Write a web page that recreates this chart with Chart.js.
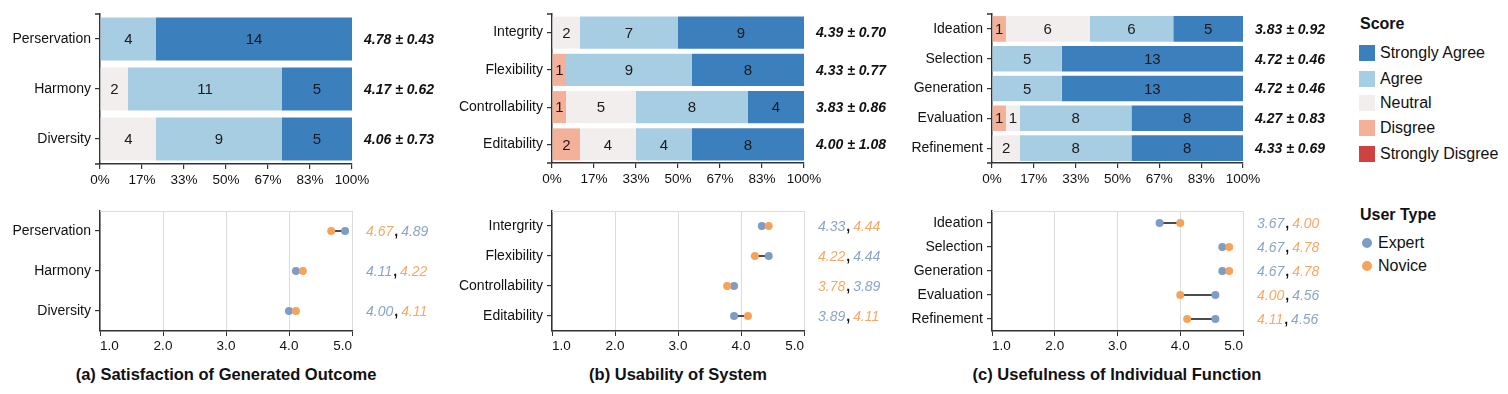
<!DOCTYPE html>
<html>
<head>
<meta charset="utf-8">
<script src="https://cdn.jsdelivr.net/npm/chart.js@4.4.1/dist/chart.umd.min.js"></script>
<style>
    body { margin: 0; background: #fff; }
    #wrap { position: relative; width: 1508px; height: 394px; overflow: hidden; background: #fff;
            font-family: "Liberation Sans", Arial, sans-serif; color: #111; }
    canvas { position: absolute; }
    .title { position: absolute; top: 365px; font-weight: bold; font-size: 16.5px; white-space: nowrap;
             transform: translateX(-50%); }
    .lg-head { position: absolute; left: 1360px; font-weight: bold; font-size: 16px; }
    .lg-item { position: absolute; font-size: 16px; line-height: 18px; white-space: nowrap; }
    .sw { position: absolute; left: 1359px; width: 16px; height: 16px; }
    .dot { position: absolute; left: 1362px; width: 10px; height: 10px; border-radius: 50%; }
</style>
</head>
<body>
<div id="wrap">
    <canvas id="stackA" width="450" height="200" style="left:0px;top:0px"></canvas>
    <canvas id="stackB" width="450" height="200" style="left:450px;top:0px"></canvas>
    <canvas id="stackC" width="440" height="200" style="left:900px;top:0px"></canvas>
    <canvas id="dumbA" width="450" height="165" style="left:0px;top:195px"></canvas>
    <canvas id="dumbB" width="450" height="165" style="left:450px;top:195px"></canvas>
    <canvas id="dumbC" width="440" height="165" style="left:900px;top:195px"></canvas>

    <div class="title" style="left:226px">(a) Satisfaction of Generated Outcome</div>
    <div class="title" style="left:678px">(b) Usability of System</div>
    <div class="title" style="left:1117px">(c) Usefulness of Individual Function</div>

    <div id="legend"></div>
</div>
<script>
// ---- data ----
const scoreLevels = ["Strongly Disgree", "Disgree", "Neutral", "Agree", "Strongly Agree"];
const scoreColors = ["#cf4242", "#f4b19a", "#f3eeee", "#a7cde3", "#3c7fbd"];

const satCats = ["Perservation", "Harmony", "Diversity"];
const satStronglyDisagree = [0, 0, 0];
const satDisagree = [0, 0, 0];
const satNeutral = [0, 2, 4];
const satAgree = [4, 11, 9];
const satStronglyAgree = [14, 5, 5];
const satStats = ["4.78 ± 0.43", "4.17 ± 0.62", "4.06 ± 0.73"];
const satExpert = [4.89, 4.11, 4.00];
const satNovice = [4.67, 4.22, 4.11];

const useCats = ["Integrity", "Flexibility", "Controllability", "Editability"];
const useCatsBottom = ["Intergrity", "Flexibility", "Controllability", "Editability"];
const useStronglyDisagree = [0, 0, 0, 0];
const useDisagree = [0, 1, 1, 2];
const useNeutral = [2, 0, 5, 4];
const useAgree = [7, 9, 8, 4];
const useStronglyAgree = [9, 8, 4, 8];
const useStats = ["4.39 ± 0.70", "4.33 ± 0.77", "3.83 ± 0.86", "4.00 ± 1.08"];
const useExpert = [4.33, 4.44, 3.89, 3.89];
const useNovice = [4.44, 4.22, 3.78, 4.11];

const funcCats = ["Ideation", "Selection", "Generation", "Evaluation", "Refinement"];
const funcStronglyDisagree = [0, 0, 0, 0, 0];
const funcDisagree = [1, 0, 0, 1, 0];
const funcNeutral = [6, 0, 0, 1, 2];
const funcAgree = [6, 5, 5, 8, 8];
const funcStronglyAgree = [5, 13, 13, 8, 8];
const funcStats = ["3.83 ± 0.92", "4.72 ± 0.46", "4.72 ± 0.46", "4.27 ± 0.83", "4.33 ± 0.69"];
const funcExpert = [3.67, 4.67, 4.67, 4.56, 4.56];
const funcNovice = [4.00, 4.78, 4.78, 4.00, 4.11];

const totalResponses = 18;
const userTypes = ["Expert", "Novice"];
const expertColor = "#7f9cc4";
const noviceColor = "#f5a35b";
const expertText = "#8aa4c8";
const noviceText = "#f4a965";

const FONT = '"Liberation Sans", Arial, sans-serif';
const AXIS = "#333";

Chart.defaults.font.family = FONT;
Chart.defaults.font.size = 14;
Chart.defaults.color = "#111";

// ---- plugins ----
// numbers inside the stacked segments
const segmentLabels = {
    id: "segmentLabels",
    afterDatasetsDraw(chart) {
        const ctx = chart.ctx;
        ctx.save();
        ctx.font = "15px " + FONT;
        ctx.fillStyle = "#1a1a1a";
        ctx.textAlign = "center";
        ctx.textBaseline = "middle";
        chart.data.datasets.forEach((ds, i) => {
            chart.getDatasetMeta(i).data.forEach((bar, j) => {
                if (ds.data[j] > 0) ctx.fillText(ds.data[j], (bar.x + bar.base) / 2, bar.y + 1);
            });
        });
        ctx.restore();
    }
};

// mean ± sd to the right of the bars
const sideStats = {
    id: "sideStats",
    afterDraw(chart, args, opts) {
        if (!opts.texts) return;
        const ctx = chart.ctx, y = chart.scales.y;
        ctx.save();
        ctx.font = "italic bold 14px " + FONT;
        ctx.fillStyle = "#111";
        ctx.textBaseline = "middle";
        opts.texts.forEach((t, j) => ctx.fillText(t, chart.chartArea.right + 12, y.getPixelForValue(j) + 1));
        ctx.restore();
    }
};

// small outer ticks at both ends of the y domain
const outerTicks = {
    id: "outerTicks",
    afterDraw(chart, args, opts) {
        if (!opts.on) return;
        const ctx = chart.ctx, a = chart.chartArea;
        ctx.save();
        ctx.strokeStyle = AXIS;
        ctx.lineWidth = 1.5;
        ctx.beginPath();
        ctx.moveTo(a.left - 5, a.top); ctx.lineTo(a.left, a.top);
        ctx.moveTo(a.left - 5, a.bottom); ctx.lineTo(a.left, a.bottom);
        ctx.stroke();
        ctx.restore();
    }
};

// light frame line on top of the dumbbell plots
const topFrame = {
    id: "topFrame",
    beforeDatasetsDraw(chart, args, opts) {
        if (!opts.on) return;
        const ctx = chart.ctx, a = chart.chartArea;
        ctx.save();
        ctx.strokeStyle = "#dcdcdc";
        ctx.lineWidth = 1;
        ctx.beginPath();
        ctx.moveTo(a.left, a.top + 0.5); ctx.lineTo(a.right, a.top + 0.5);
        ctx.stroke();
        ctx.restore();
    }
};

// "low , high" pair labels coloured by user type
const pairLabels = {
    id: "pairLabels",
    afterDraw(chart, args, opts) {
        if (!opts.expert) return;
        const ctx = chart.ctx, y = chart.scales.y;
        ctx.save();
        ctx.textBaseline = "middle";
        opts.expert.forEach((e, j) => {
            const n = opts.novice[j];
            const parts = e <= n
                ? [[e, expertText], [n, noviceText]]
                : [[n, noviceText], [e, expertText]];
            const py = y.getPixelForValue(j) + 1;
            let px = chart.chartArea.right + 14;
            ctx.font = "italic 14px " + FONT;
            ctx.fillStyle = parts[0][1];
            ctx.fillText(parts[0][0].toFixed(2), px, py);
            px += ctx.measureText(parts[0][0].toFixed(2)).width + 1;
            ctx.font = "bold 14px " + FONT;
            ctx.fillStyle = "#111";
            ctx.fillText(",", px, py);
            px += ctx.measureText(",").width + 3;
            ctx.font = "italic 14px " + FONT;
            ctx.fillStyle = parts[1][1];
            ctx.fillText(parts[1][0].toFixed(2), px, py);
        });
        ctx.restore();
    }
};

Chart.register(segmentLabels, sideStats, outerTicks, topFrame, pairLabels);

// ---- stacked likert bars ----
function makeStack(id, cats, levels, stats, yWidth, xHeight, padRight) {
    new Chart(id, {
        type: "bar",
        data: {
            labels: cats,
            datasets: levels.map((vals, i) => ({
                label: scoreLevels[i],
                data: vals,
                backgroundColor: scoreColors[i],
                borderWidth: 0,
                categoryPercentage: 0.86,
                barPercentage: 1
            }))
        },
        options: {
            indexAxis: "y",
            responsive: false,
            animation: false,
            events: [],
            layout: { padding: { left: 0, top: 14, right: padRight, bottom: 0 } },
            plugins: {
                legend: { display: false },
                tooltip: { enabled: false },
                sideStats: { texts: stats },
                outerTicks: { on: true }
            },
            scales: {
                x: {
                    stacked: true,
                    min: 0,
                    max: totalResponses,
                    grid: { drawOnChartArea: false, tickColor: AXIS, tickLength: 5, lineWidth: 1.2 },
                    border: { color: AXIS, width: 1.5 },
                    ticks: {
                        stepSize: 3,
                        padding: 3,
                        maxRotation: 0,
                        font: { size: 13.5 },
                        callback: v => Math.round(v / totalResponses * 100) + "%"
                    },
                    afterFit: s => { s.height = xHeight; }
                },
                y: {
                    stacked: true,
                    grid: { drawOnChartArea: false, offset: false, tickColor: AXIS, tickLength: 5, lineWidth: 1.2 },
                    border: { color: AXIS, width: 1.5 },
                    ticks: { padding: 4, font: { size: 14 } },
                    afterFit: s => { s.width = yWidth; }
                }
            }
        }
    });
}

// ---- dumbbell expert vs novice ----
function makeDumbbell(id, cats, expert, novice, yWidth, padRight) {
    const segments = cats.map((c, j) => ({
        type: "line",
        data: [{ x: expert[j], y: c }, { x: novice[j], y: c }],
        borderColor: "#111",
        borderWidth: 1.4,
        pointRadius: 0,
        order: 2
    }));
    new Chart(id, {
        type: "line",
        data: {
            datasets: [
                {
                    label: userTypes[1],
                    data: cats.map((c, j) => ({ x: novice[j], y: c })),
                    showLine: false,
                    pointRadius: 4,
                    pointBackgroundColor: noviceColor,
                    pointBorderWidth: 0,
                    order: 0
                },
                {
                    label: userTypes[0],
                    data: cats.map((c, j) => ({ x: expert[j], y: c })),
                    showLine: false,
                    pointRadius: 4,
                    pointBackgroundColor: expertColor,
                    pointBorderWidth: 0,
                    order: 1
                }
            ].concat(segments)
        },
        options: {
            responsive: false,
            animation: false,
            events: [],
            layout: { padding: { left: 0, top: 16, right: padRight, bottom: 0 } },
            plugins: {
                legend: { display: false },
                tooltip: { enabled: false },
                topFrame: { on: true },
                pairLabels: { expert: expert, novice: novice }
            },
            scales: {
                x: {
                    type: "linear",
                    min: 1,
                    max: 5,
                    grid: { color: "#dcdcdc", tickColor: AXIS, tickLength: 5, lineWidth: 1 },
                    border: { color: AXIS, width: 1.5 },
                    ticks: {
                        stepSize: 1,
                        padding: 2,
                        align: "inner",
                        maxRotation: 0,
                        font: { size: 13.5 },
                        callback: v => v.toFixed(1)
                    },
                    afterFit: s => { s.height = 29; }
                },
                y: {
                    type: "category",
                    labels: cats,
                    offset: true,
                    grid: { drawOnChartArea: false, offset: false, tickColor: AXIS, tickLength: 5, lineWidth: 1.2 },
                    border: { color: AXIS, width: 1.5 },
                    ticks: { padding: 4, font: { size: 14 } },
                    afterFit: s => { s.width = yWidth; }
                }
            }
        }
    });
}

makeStack("stackA", satCats,
    [satStronglyDisagree, satDisagree, satNeutral, satAgree, satStronglyAgree], satStats, 100, 36, 98);
makeStack("stackB", useCats,
    [useStronglyDisagree, useDisagree, useNeutral, useAgree, useStronglyAgree], useStats, 102, 37, 96);
makeStack("stackC", funcCats,
    [funcStronglyDisagree, funcDisagree, funcNeutral, funcAgree, funcStronglyAgree], funcStats, 92, 37, 97);

makeDumbbell("dumbA", satCats, satExpert, satNovice, 100, 98);
makeDumbbell("dumbB", useCatsBottom, useExpert, useNovice, 102, 96);
makeDumbbell("dumbC", funcCats, funcExpert, funcNovice, 92, 97);

// ---- legends (html) ----
const legend = document.getElementById("legend");
let html = '<div class="lg-head" style="top:15px">Score</div>';
const swatchTops = [45, 71, 95, 120, 146];
scoreLevels.slice().reverse().forEach((lvl, i) => {
    const color = scoreColors[scoreColors.length - 1 - i];
    html += '<div class="sw" style="top:' + swatchTops[i] + 'px;background:' + color + '"></div>';
    html += '<div class="lg-item" style="left:1380px;top:' + (swatchTops[i] - 1) + 'px">' + lvl + '</div>';
});
html += '<div class="lg-head" style="top:206px">User Type</div>';
[expertColor, noviceColor].forEach((c, i) => {
    const top = 238 + i * 23;
    html += '<div class="dot" style="top:' + top + 'px;background:' + c + '"></div>';
    html += '<div class="lg-item" style="left:1378px;top:' + (top - 4) + 'px">' + userTypes[i] + '</div>';
});
legend.innerHTML = html;
</script>
</body>
</html>
